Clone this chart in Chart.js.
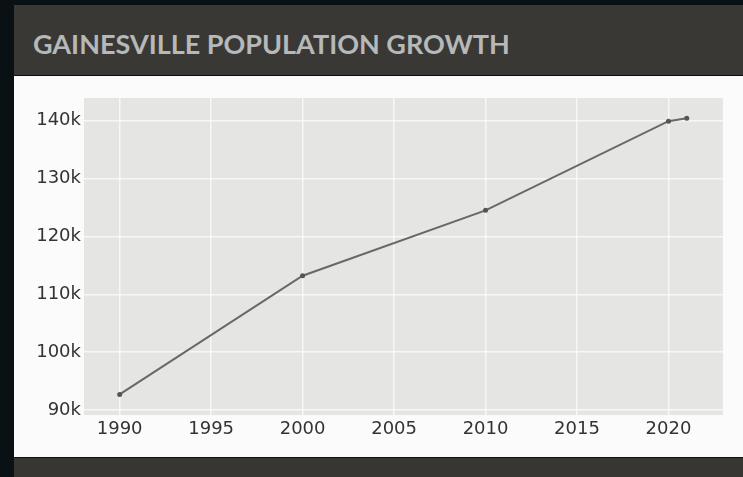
<!DOCTYPE html>
<html>
<head>
<meta charset="utf-8">
<script src="https://cdn.jsdelivr.net/npm/chart.js@4/dist/chart.umd.min.js"></script>
<style>
  html, body { margin: 0; padding: 0; }
  body { width: 743px; height: 477px; background: #0a1115; position: relative; overflow: hidden; }
  #titlebar { position: absolute; left: 14px; top: 5px; width: 729px; height: 70px; background: #3a3835; }
  #title { position: absolute; left: 19px; top: 23px; font-family: Lato, "Open Sans", sans-serif; font-weight: 700; font-size: 27px; line-height: 1.2; color: #b5b9b9; white-space: nowrap; }
  #panel { position: absolute; left: 14px; top: 76px; width: 729px; height: 381px; background: #fbfbfb; }
  #bottombar { position: absolute; left: 14px; top: 458px; width: 729px; height: 19px; background: #383632; }
  #wrap { position: absolute; left: 14px; top: 76px; width: 729px; height: 381px; }
</style>
</head>
<body>
<div id="titlebar"><div id="title">GAINESVILLE POPULATION GROWTH</div></div>
<div id="panel"></div>
<div id="bottombar"></div>
<div id="wrap"><canvas id="c" width="729" height="381"></canvas></div>
<script>
const years = [1990, 2000, 2010, 2020, 2021];
const population = [92700, 113200, 124500, 139900, 140400];
const xTicks = [1990, 1995, 2000, 2005, 2010, 2015, 2020];
const yTicks = [90000, 100000, 110000, 120000, 130000, 140000];

const plotBg = {
  id: 'plotBg',
  beforeDraw(chart) {
    const {ctx, chartArea: a} = chart;
    ctx.save();
    ctx.fillStyle = '#e5e5e3';
    ctx.fillRect(a.left, a.top, a.right - a.left, a.bottom - a.top);
    ctx.restore();
  }
};

new Chart(document.getElementById('c'), {
  type: 'scatter',
  data: {
    datasets: [{
      data: years.map((y, i) => ({x: y, y: population[i]})),
      showLine: true,
      borderColor: '#686868',
      borderWidth: 2,
      pointRadius: 2.5,
      pointBackgroundColor: '#555555',
      pointBorderWidth: 0,
      tension: 0
    }]
  },
  plugins: [plotBg],
  options: {
    responsive: false,
    animation: false,
    layout: { padding: { left: 0, top: 22, right: 20, bottom: 0 } },
    plugins: { legend: { display: false }, tooltip: { enabled: false } },
    scales: {
      x: {
        type: 'linear',
        min: 1988.05,
        max: 2022.98,
        afterBuildTicks: s => { s.ticks = xTicks.map(v => ({value: v})); },
        afterFit: s => { s.height = 42; },
        border: { display: false },
        grid: { color: 'rgba(255,255,255,0.7)', lineWidth: 1.5, drawTicks: false },
        ticks: { color: '#333333', font: { family: 'DejaVu Sans', size: 18 }, padding: 4, maxRotation: 0, callback: v => String(v) }
      },
      y: {
        min: 89150,
        max: 143900,
        afterBuildTicks: s => { s.ticks = yTicks.map(v => ({value: v})); },
        afterFit: s => { s.width = 70; },
        border: { display: false },
        grid: { color: 'rgba(255,255,255,0.7)', lineWidth: 1.5, drawTicks: false },
        ticks: { color: '#333333', font: { family: 'DejaVu Sans', size: 18 }, padding: 3, callback: v => (v / 1000) + 'k' }
      }
    }
  }
});
</script>
</body>
</html>
